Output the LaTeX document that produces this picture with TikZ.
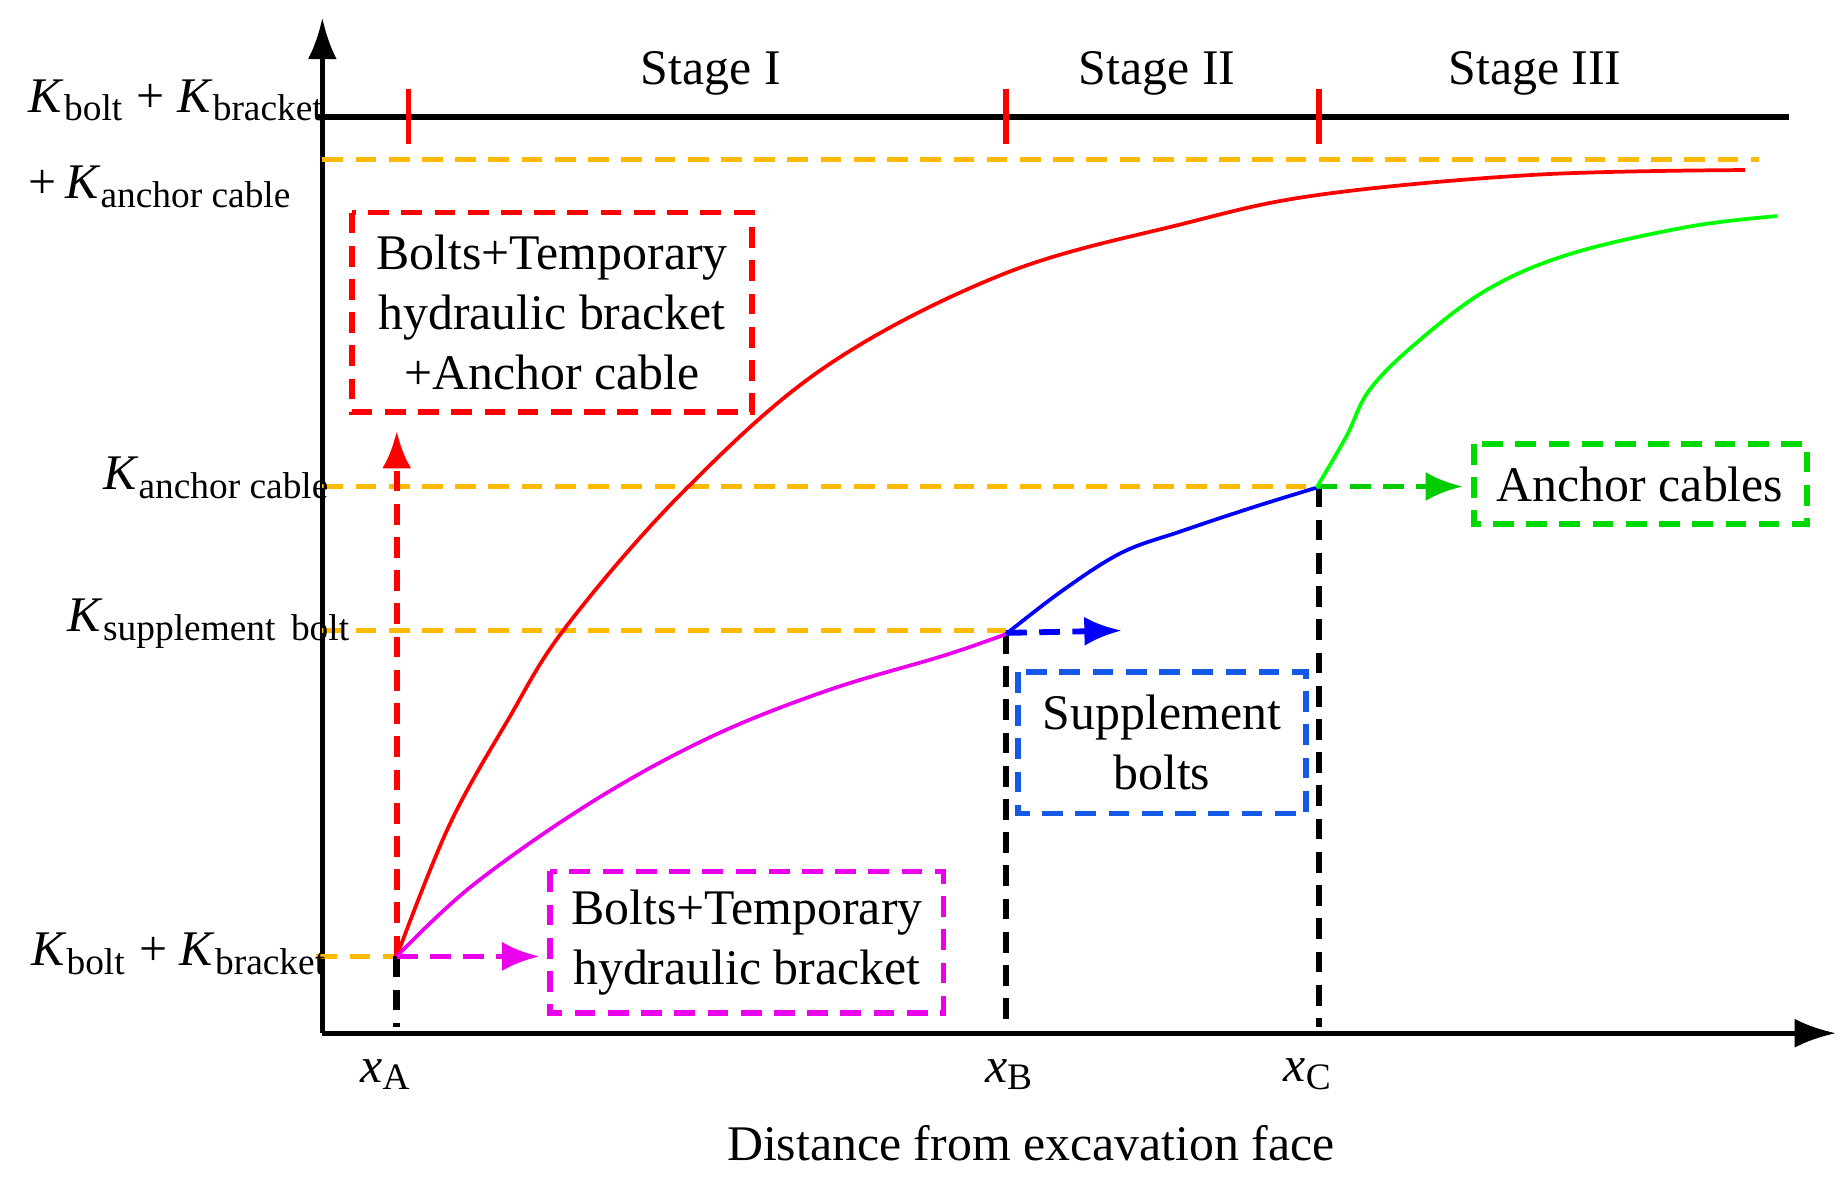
\documentclass[tikz,border=0pt]{standalone}
\usepackage{fontspec}
\setmainfont{Liberation Serif}
\usetikzlibrary{arrows.meta}
\definecolor{orng}{RGB}{255,185,0}
\definecolor{bbox}{RGB}{20,90,230}
\definecolor{mag}{RGB}{235,0,235}
\begin{document}
\begin{tikzpicture}[x=0.01cm,y=-0.01cm,
  ax/.style={line width=1.2pt,-{Latex[length=10pt,width=7pt]}},
  dsh/.style={line width=1.4pt,dash pattern=on 5pt off 3pt},
  org/.style={dsh,orng},
  blk/.style={dsh,black,line width=1.6pt},
  crv/.style={line width=0.9pt},
  bx/.style={align=center,font=\fontsize{12}{14.5}\selectfont,inner sep=5pt},
  lab/.style={font=\fontsize{12}{14}\selectfont}]
\useasboundingbox (0,0) rectangle (1560,996);
\newcommand{\sbs}[1]{\textsubscript{\fontsize{9}{10}\selectfont #1}}
\coordinate (o) at (273,875);
\coordinate (yt) at (273,15);
\coordinate (xr) at (1555,875);
\draw[ax] (o) -- (yt);
\draw[ax] (o) -- (xr);
\coordinate (tl) at (268,99); \coordinate (tr) at (1515,99);
\draw[line width=1.6pt] (tl) -- (tr);
\foreach \x in {346,852,1117}{\draw[red,line width=1.3pt] (\x,75) -- (\x,122);}
\node[lab] (s1) at (602,62) {Stage I};
\node[lab] (s2) at (980,62) {Stage II};
\node[lab] (s3) at (1300,62) {Stage III};
\draw[org] (273,135) -- (1490,135);
\draw[org] (273,412) -- (1113,412);
\draw[org] (273,534) -- (852,534);
\draw[org] (268,810) -- (336,810);
\coordinate (pA) at (336,810); \coordinate (pB) at (852,536); \coordinate (pC) at (1115,412);
\coordinate (bA) at (336,870); \coordinate (bB) at (852,870); \coordinate (bC) at (1117,870);
\draw[blk] (pA) -- (bA);
\draw[blk] (pB) -- (bB);
\draw[blk] (1117,412) -- (bC);
\coordinate (rA) at (336,365);
\draw[dsh,red,-{Latex[length=9pt,width=7pt]}] (pA) -- (rA);
\coordinate (mA) at (457,810);
\draw[dsh,mag,-{Latex[length=9pt,width=7pt]}] (pA) -- (mA);
\coordinate (bAr) at (950,534);
\draw[dsh,blue,-{Latex[length=9pt,width=7pt]}] (pB) -- (bAr);
\coordinate (gA) at (1239,412);
\draw[dsh,green!80!black,-{Latex[length=9pt,width=7pt]}] (pC) -- (gA);
\draw[crv,red] plot[smooth,tension=0.6] coordinates {(336,810) (380,700) (430,610) (480,530) (580,415) (700,310) (850,232) (1000,190) (1117,165) (1300,148) (1478,144)};
\draw[crv,mag] plot[smooth,tension=0.6] coordinates {(336,810) (400,750) (500,680) (600,625) (700,585) (800,555) (852,537)};
\draw[crv,blue] plot[smooth,tension=0.6] coordinates {(852,537) (900,500) (950,468) (1000,450) (1060,430) (1115,413)};
\draw[crv,green] plot[smooth,tension=0.6] coordinates {(1115,413) (1140,370) (1160,330) (1200,290) (1260,245) (1330,215) (1430,192) (1505,183)};
\draw[dsh,red] (298,180) rectangle (637,349);
\node[bx] (rb) at (467.5,264.5) {Bolts+Temporary\\hydraulic bracket\\+Anchor cable};
\draw[dsh,mag] (466,738) rectangle (799,858);
\node[bx] (mb) at (632.5,798) {Bolts+Temporary\\hydraulic bracket};
\draw[dsh,bbox] (862,569) rectangle (1106,689);
\node[bx] (bb) at (984,629) {Supplement\\bolts};
\draw[dsh,green!85!black] (1248,376) rectangle (1530,444);
\node[bx] (gb) at (1389,410) {Anchor cables};
\node[lab,anchor=west] (l1) at (12,85) {\textit{K}\sbs{bolt} + \textit{K}\sbs{bracket}};
\node[lab,anchor=west] (l2) at (12,158) {+\,\textit{K}\sbs{anchor cable}};
\node[lab,anchor=west] (l3) at (75,405) {\textit{K}\sbs{anchor cable}};
\node[lab,anchor=west] (l4) at (45,528) {\textit{K}\sbs{supplement\, bolt}};
\node[lab,anchor=west] (l5) at (14,808) {\textit{K}\sbs{bolt} + \textit{K}\sbs{bracket}};
\node[lab] (xa) at (327,910) {\textit{x}\sbs{A}};
\node[lab] (xb) at (855,910) {\textit{x}\sbs{B}};
\node[lab] (xc) at (1108,910) {\textit{x}\sbs{C}};
\node[lab] (xl) at (873,968) {Distance from excavation face};
\end{tikzpicture}
\end{document}
